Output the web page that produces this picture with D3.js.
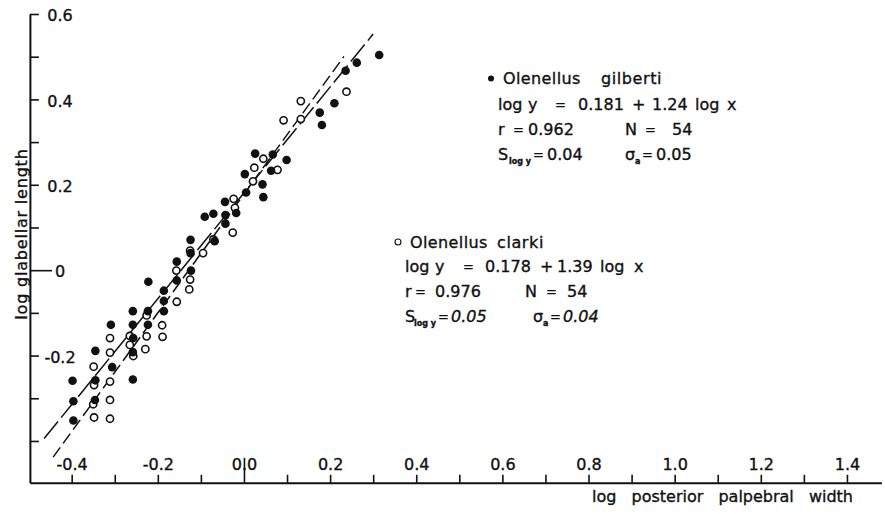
<!DOCTYPE html>
<html>
<head>
<meta charset="utf-8">
<script src="https://cdn.jsdelivr.net/npm/d3@7"></script>
<style>
  html, body { margin: 0; padding: 0; background: #fff; }
  svg { display: block; font-family: "DejaVu Sans", "Noto Sans", sans-serif; }
  text.ink { stroke: #111; stroke-width: 0.35px; }
</style>
</head>
<body>
<svg id="chart" width="885" height="514"></svg>
<script>
// Olenellus gilberti: log posterior palpebral width (x) vs log glabellar length (y)
const gilbertiX = [-0.398, -0.396, -0.396, -0.345, -0.345, -0.346, -0.309, -0.306, -0.258, -0.258,
                   -0.257, -0.258, -0.258, -0.222, -0.223, -0.223, -0.186, -0.186, -0.186, -0.156,
                   -0.156, -0.124, -0.124, -0.123, -0.091, -0.071, -0.068, -0.044, -0.043, -0.043,
                   -0.018, 0.002, 0.005, 0.026, 0.043, 0.045, 0.067, 0.063, 0.099, 0.176,
                   0.181, 0.210, 0.236, 0.262, 0.314];
const gilbertiY = [-0.259, -0.307, -0.352, -0.189, -0.258, -0.304, -0.128, -0.227, -0.096, -0.128,
                   -0.159, -0.192, -0.256, -0.027, -0.096, -0.128, -0.048, -0.072, -0.096, 0.020,
                   -0.024, 0.071, 0.040, -0.001, 0.125, 0.132, 0.068, 0.160, 0.129, 0.109,
                   0.134, 0.225, 0.182, 0.273, 0.201, 0.171, 0.271, 0.233, 0.258, 0.369,
                   0.340, 0.391, 0.467, 0.486, 0.504];

// Olenellus clarki
const clarkiX = [-0.349, -0.348, -0.350, -0.348, -0.311, -0.311, -0.311, -0.311, -0.311, -0.265,
                 -0.265, -0.257, -0.226, -0.226, -0.229, -0.190, -0.189, -0.157, -0.156, -0.125,
                 -0.125, -0.127, -0.095, -0.071, -0.026, -0.024, -0.021, 0.021, 0.024, 0.045,
                 0.078, 0.092, 0.132, 0.132, 0.238];
const clarkiY = [-0.226, -0.269, -0.314, -0.345, -0.159, -0.193, -0.261, -0.304, -0.348, -0.154,
                 -0.175, -0.201, -0.106, -0.155, -0.185, -0.129, -0.156, -0.001, -0.074, 0.046,
                 -0.022, -0.045, 0.040, 0.072, 0.088, 0.167, 0.146, 0.208, 0.240, 0.261,
                 0.235, 0.351, 0.354, 0.396, 0.418];

// Regression statistics (log y = a + b log x) and the x-range each fitted line spans
const gilbertiFit = { a: "0.181", b: "1.24", r: "0.962", n: "54", sLogY: "0.04", sigmaA: "0.05" };
const clarkiFit   = { a: "0.178", b: "1.39", r: "0.976", n: "54", sLogY: "0.05", sigmaA: "0.04" };
const gilbertiSpan = [-0.464, 0.300];
const clarkiSpan   = [-0.443, 0.232];

// Axis ticks and their labels (blank = unlabelled tick)
const xTicks = [-0.4, -0.3, -0.2, -0.1, 0.0, 0.1, 0.2, 0.3, 0.4, 0.5, 0.6, 0.7, 0.8, 0.9, 1.0, 1.1, 1.2, 1.3, 1.4];
const xTickLabels = ["-0.4", "", "-0.2", "", "0.0", "", "0.2", "", "0.4", "", "0.6", "", "0.8", "", "1.0", "", "1.2", "", "1.4"];
const yTicks = [-0.4, -0.3, -0.2, -0.1, 0.0, 0.1, 0.2, 0.3, 0.4, 0.5, 0.6];
const yTickLabels = ["", "", "-0.2", "", "0", "", "0.2", "", "0.4", "", "0.6"];

const xTitle = "log posterior palpebral width";
const yTitle = "log glabellar length";

const ink = "#111";
const svg = d3.select("#chart");

const x = d3.scaleLinear().domain([-0.497, 1.48]).range([29.9, 881.4]);
const y = d3.scaleLinear().domain([-0.498, 0.6]).range([482.8, 14]);

// ---- x axis (ticks point up, labels sit above the line)
const xAxis = svg.append("g")
  .attr("transform", `translate(0,${y.range()[0]})`)
  .call(d3.axisTop(x)
    .tickValues(xTicks)
    .tickSize(8)
    .tickSizeOuter(0)
    .tickPadding(4.8)
    .tickFormat((d, i) => xTickLabels[i]));
xAxis.select(".domain").attr("stroke", ink).attr("stroke-width", 2);
xAxis.selectAll(".tick line").attr("stroke", ink).attr("stroke-width", 1.6)
  .attr("y2", d => d === 0 ? -25 : -8);
xAxis.selectAll(".tick text")
  .attr("class", "ink")
  .attr("fill", ink)
  .attr("font-family", "DejaVu Sans, sans-serif")
  .attr("font-size", 16);

// ---- y axis (ticks point right, labels inside the plot)
const x0 = x.range()[0];
const yAxis = svg.append("g")
  .attr("transform", `translate(${x0},0)`)
  .call(d3.axisRight(y)
    .tickValues(yTicks)
    .tickSize(9)
    .tickSizeOuter(0)
    .tickFormat((d, i) => yTickLabels[i]));
yAxis.select(".domain").attr("stroke", ink).attr("stroke-width", 2);
yAxis.selectAll(".tick line").attr("stroke", ink).attr("stroke-width", 1.6)
  .attr("x2", d => d === 0 ? 52 - x0 : 9);
yAxis.selectAll(".tick text")
  .attr("class", "ink")
  .attr("fill", ink)
  .attr("font-family", "DejaVu Sans, sans-serif")
  .attr("font-size", 16)
  .attr("text-anchor", "middle")
  .attr("x", 60 - x0)
  .attr("dy", "0.42em");

// ---- axis titles
svg.append("text")
  .attr("class", "ink")
  .attr("x", 853).attr("y", 502)
  .attr("text-anchor", "end")
  .attr("font-size", 16)
  .attr("word-spacing", 10)
  .attr("fill", ink)
  .text(xTitle);

svg.append("text")
  .attr("class", "ink")
  .attr("transform", "translate(27,234) rotate(-90)")
  .attr("text-anchor", "middle")
  .attr("font-size", 16)
  .attr("letter-spacing", 0.8)
  .attr("fill", ink)
  .text(yTitle);

// ---- fitted regression lines
const fitLine = d3.line().x(d => x(d[0])).y(d => y(d[1]));
function fitPoints(fit, span) {
  const a = +fit.a, b = +fit.b;
  return span.map(v => [v, a + b * v]);
}
svg.append("path")
  .attr("d", fitLine(fitPoints(gilbertiFit, gilbertiSpan)))
  .attr("fill", "none").attr("stroke", ink).attr("stroke-width", 1.5)
  .attr("stroke-dasharray", "22,5");
svg.append("path")
  .attr("d", fitLine(fitPoints(clarkiFit, clarkiSpan)))
  .attr("fill", "none").attr("stroke", ink).attr("stroke-width", 1.5)
  .attr("stroke-dasharray", "12,5");

// ---- points
const clarkiPts = clarkiX.map((v, i) => [v, clarkiY[i]]);
const gilbertiPts = gilbertiX.map((v, i) => [v, gilbertiY[i]]);

svg.append("g").selectAll("circle")
  .data(clarkiPts).join("circle")
  .attr("cx", d => x(d[0])).attr("cy", d => y(d[1]))
  .attr("r", 3.6)
  .attr("fill", "#fff").attr("stroke", ink).attr("stroke-width", 1.6);

svg.append("g").selectAll("circle")
  .data(gilbertiPts).join("circle")
  .attr("cx", d => x(d[0])).attr("cy", d => y(d[1]))
  .attr("r", 4.3)
  .attr("fill", ink);

// ---- regression annotations
const notes = svg.append("g").attr("font-size", 16).attr("fill", ink);

function put(xp, yp, str, opt = {}) {
  const t = notes.append("text").attr("class", "ink").attr("x", xp).attr("y", yp).text(str);
  if (opt.size) t.attr("font-size", opt.size);
  if (opt.italic) t.attr("font-style", "italic");
  if (opt.spacing) t.attr("letter-spacing", opt.spacing);
  return t;
}
// narrow equals sign
function eq(xp, yp) {
  return put(xp, yp - 0.6, "=", { size: 13 });
}

function block(fit, left, base, nameWords, nameX, marker, cols) {
  // title line
  if (marker === "filled") {
    notes.append("circle").attr("cx", left - 7).attr("cy", base[0] - 5.5).attr("r", 3).attr("fill", ink);
  } else {
    notes.append("circle").attr("cx", left - 7).attr("cy", base[0] - 6).attr("r", 3)
      .attr("fill", "none").attr("stroke", ink).attr("stroke-width", 1.1);
  }
  put(left + 5, base[0], nameWords[0], { spacing: 0.4 });
  put(nameX, base[0], nameWords[1], { spacing: 0.6 });

  // equation line
  const e = cols.eq;
  put(left + e[0], base[1], "log");
  put(left + e[1], base[1], "y");
  eq(left + e[2], base[1]);
  put(left + e[3], base[1], fit.a);
  put(left + e[4], base[1], "+");
  put(left + e[5], base[1], fit.b);
  put(left + e[6], base[1], "log");
  put(left + e[7], base[1], "x");

  // correlation and sample size
  const r = cols.r;
  put(left + r[0], base[2], "r");
  eq(left + r[1], base[2]);
  put(left + r[2], base[2], fit.r);
  put(left + r[3], base[2], "N");
  eq(left + r[4], base[2]);
  put(left + r[5], base[2], fit.n);

  // standard errors
  const s = cols.s;
  put(left + s[0], base[3], "S");
  put(left + s[1], base[3] + 3.5, "log y", { size: 8 }).attr("font-weight", "bold");
  eq(left + s[2], base[3]);
  put(left + s[3], base[3], fit.sLogY, { italic: cols.italic });
  put(left + s[4], base[3], "σ");
  put(left + s[5], base[3] + 3.5, "a", { size: 8 }).attr("font-weight", "bold");
  eq(left + s[6], base[3]);
  put(left + s[7], base[3], fit.sigmaA, { italic: cols.italic });
}

block(gilbertiFit, 498, [84, 110, 135, 160], ["Olenellus", "gilberti"], 601, "filled", {
  eq: [0, 30, 57, 80, 134, 154, 197, 229],
  r:  [0, 15, 30, 127, 147, 174],
  s:  [0, 11, 35, 49, 127, 137, 144, 158],
  italic: false
});

block(clarkiFit, 405, [248, 272, 297, 322], ["Olenellus", "clarki"], 497, "open", {
  eq: [0, 30, 58, 80, 135, 152, 195, 229],
  r:  [0, 10, 30, 120, 141, 162],
  s:  [0, 9, 33, 46, 128, 138, 145, 158],
  italic: true
});
</script>
</body>
</html>
